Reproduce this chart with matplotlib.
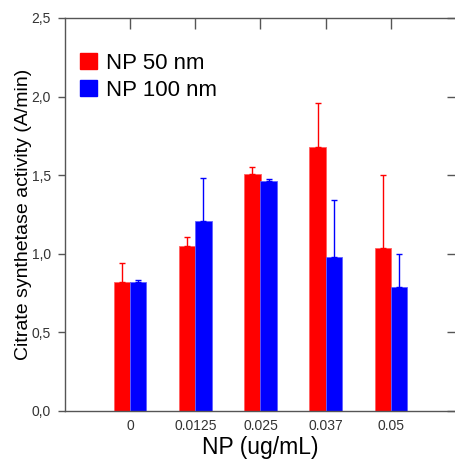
import numpy as np
import matplotlib
matplotlib.use("Agg")
import matplotlib.pyplot as plt
from matplotlib.patches import Patch

plt.rcParams['font.family'] = ['Liberation Sans', 'DejaVu Sans']

conc = ["0", "0.0125", "0.025", "0.037", "0.05"]
np50 = [0.82, 1.05, 1.51, 1.68, 1.04]
np50_err = [0.12, 0.06, 0.04, 0.28, 0.46]
np100 = [0.82, 1.21, 1.46, 0.98, 0.79]
np100_err = [0.015, 0.27, 0.013, 0.36, 0.21]

x = np.arange(1, len(conc) + 1)
w = 0.25
zeros = np.zeros(len(conc))

fig = plt.figure(figsize=(4.56, 4.62), dpi=100)
ax = fig.add_axes([65 / 456, 51 / 462, 391 / 456, 393 / 462])

ax.bar(x - w / 2, np50, w, color="#ff0000", edgecolor="#ff6060", linewidth=0.6,
       yerr=[zeros, np50_err], ecolor="#ff0000",
       error_kw=dict(elinewidth=1, capsize=2.5, capthick=1))
ax.bar(x + w / 2, np100, w, color="#0000ff", edgecolor="#6060ff", linewidth=0.6,
       yerr=[zeros, np100_err], ecolor="#0000ff",
       error_kw=dict(elinewidth=1, capsize=2.5, capthick=1))

ax.set_xlim(0, 6)
ax.set_ylim(0, 2.5)
ax.set_xticks(x)
ax.set_xticklabels(conc)
yt = [0, 0.5, 1.0, 1.5, 2.0, 2.5]
ax.set_yticks(yt)
ax.set_yticklabels([f"{v:.1f}".replace(".", ",") for v in yt])

ax.tick_params(axis="x", bottom=False, top=True, direction="in", length=8,
               width=1, color="#555555", labelsize=10, labelcolor="#333333", pad=6)
ax.tick_params(axis="y", left=True, direction="out", length=5, width=1,
               color="#555555", labelsize=10, labelcolor="#333333", pad=5)
right = ax.secondary_yaxis("right")
right.set_yticks(yt)
right.tick_params(direction="in", length=6.5, width=1, color="#555555", labelright=False)
right.spines["right"].set_visible(False)

for s in ax.spines.values():
    s.set_color("#555555")
    s.set_linewidth(1)
ax.spines["right"].set_visible(False)

ax.set_xlabel("NP (ug/mL)", fontsize=16.5, labelpad=2)
ax.set_ylabel("Citrate synthetase activity (A/min)", fontsize=14, labelpad=0)

handles = [Patch(color="#ff0000"), Patch(color="#0000ff")]
ax.legend(handles, ["NP 50 nm", "NP 100 nm"], loc="upper left", frameon=False,
          fontsize=16, handlelength=0.75, handleheight=0.75, handletextpad=0.4,
          labelspacing=0.25, borderaxespad=0, borderpad=0,
          bbox_to_anchor=(15 / 391, 1 - 35 / 393))

fig.savefig("out.png", dpi=100)
